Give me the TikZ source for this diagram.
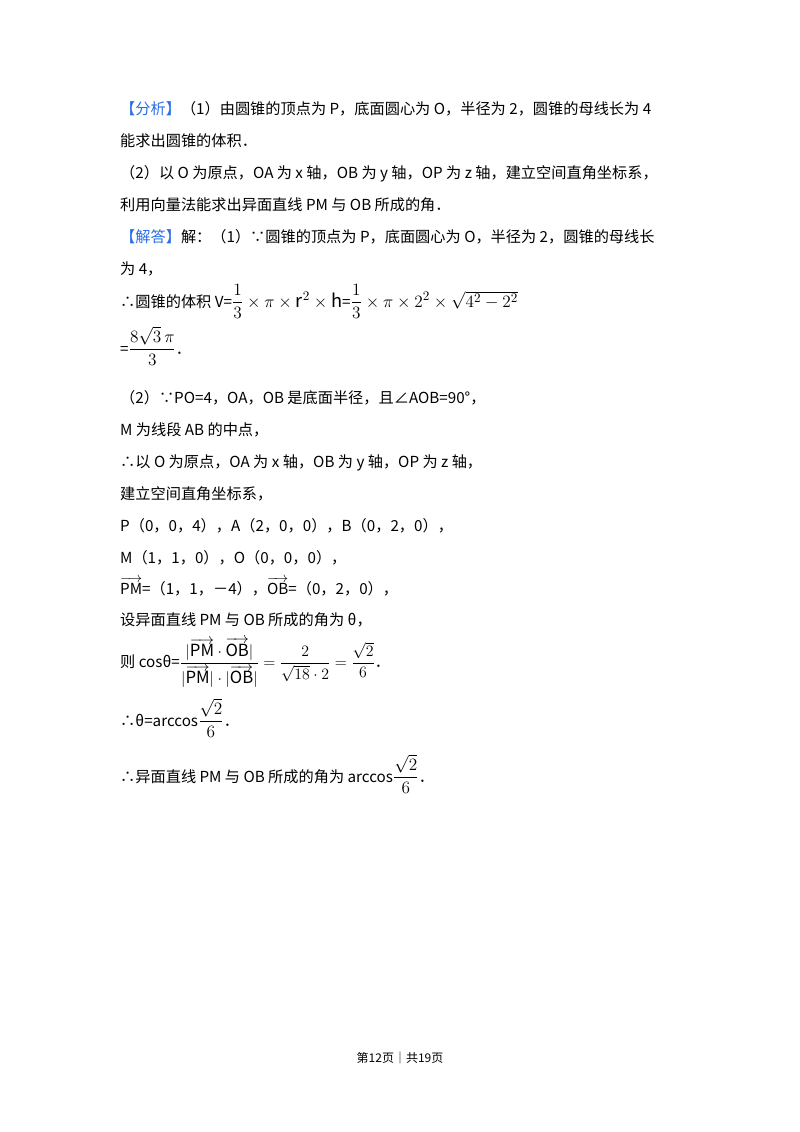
\documentclass[tikz,border=0pt]{standalone}
\usepackage{fontspec}
\usepackage{amsmath}
\setmainfont{Noto Sans CJK SC}
\begin{document}
\begin{tikzpicture}[x=1pt,y=-1pt,
  txt/.style={anchor=base west,inner sep=0pt,font=\fontsize{15.2}{18}\selectfont}]
\useasboundingbox[fill=white] (0,0) rectangle (800,1132);
\node[txt] (l1) at (120,114) {\textcolor[RGB]{40,110,230}{【分析】}（1）由圆锥的顶点为 P，底面圆心为 O，半径为 2，圆锥的母线长为 4};
\node[txt] (l2) at (120,146) {能求出圆锥的体积．};
\node[txt] (l3) at (120,178) {（2）以 O 为原点，OA 为 x 轴，OB 为 y 轴，OP 为 z 轴，建立空间直角坐标系，};
\node[txt] (l4) at (120,210) {利用向量法能求出异面直线 PM 与 OB 所成的角．};
\node[txt] (l5) at (120,242) {\textcolor[RGB]{40,110,230}{【解答】}解：（1）∵圆锥的顶点为 P，底面圆心为 O，半径为 2，圆锥的母线长};
\node[txt] (l6) at (120,274) {为 4，};
\node[txt] (l7) at (120,307) {∴圆锥的体积 V=\scalebox{1.2}{$\dfrac{1}{3}\times\pi\times \mathrm{r}^2\times \mathrm{h}$}=\scalebox{1.2}{$\dfrac{1}{3}\times\pi\times 2^2\times\sqrt{4^2-2^2}$}};
\node[txt] (l8) at (120,354) {=\scalebox{1.2}{$\dfrac{8\sqrt{3}\,\pi}{3}$}．};
\node[txt] (l9) at (120,403) {（2）∵PO=4，OA，OB 是底面半径，且∠AOB=90°，};
\node[txt] (l10) at (120,435) {M 为线段 AB 的中点，};
\node[txt] (l11) at (120,467) {∴以 O 为原点，OA 为 x 轴，OB 为 y 轴，OP 为 z 轴，};
\node[txt] (l12) at (120,499) {建立空间直角坐标系，};
\node[txt] (l13) at (120,531) {P（0，0，4），A（2，0，0），B（0，2，0），};
\node[txt] (l14) at (120,563) {M（1，1，0），O（0，0，0），};
\node[txt] (l15) at (120,594) {$\overrightarrow{\mathrm{PM}}$=（1，1，－4），$\overrightarrow{\mathrm{OB}}$=（0，2，0），};
\node[txt] (l16) at (120,625) {设异面直线 PM 与 OB 所成的角为 θ，};
\node[txt] (l17) at (120,667) {则 cosθ=\scalebox{1.1}{$\dfrac{|\overrightarrow{\mathrm{PM}}\cdot\overrightarrow{\mathrm{OB}}|}{|\overrightarrow{\mathrm{PM}}|\cdot|\overrightarrow{\mathrm{OB}}|}=\dfrac{2}{\sqrt{18}\cdot 2}=\dfrac{\sqrt{2}}{6}$}．};
\node[txt] (l18) at (120,726) {∴θ=arccos\scalebox{1.2}{$\dfrac{\sqrt{2}}{6}$}．};
\node[txt] (l19) at (120,782) {∴异面直线 PM 与 OB 所成的角为 arccos\scalebox{1.2}{$\dfrac{\sqrt{2}}{6}$}．};
\node[anchor=base,inner sep=0pt,font=\fontsize{12}{14}\selectfont] (ft) at (400,1062) {第12页｜共19页};
\end{tikzpicture}
\end{document}
